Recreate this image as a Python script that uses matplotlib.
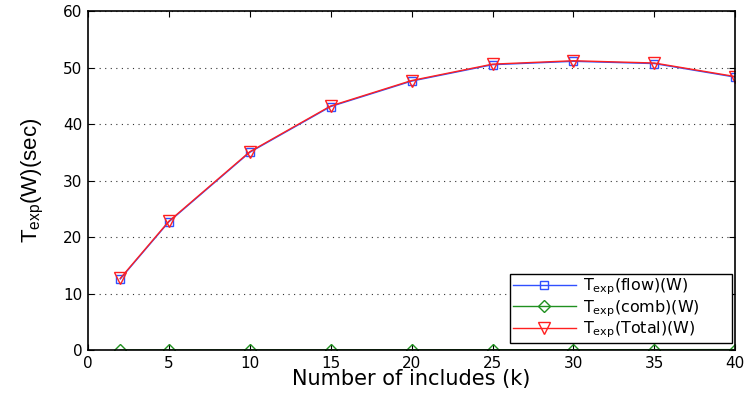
import matplotlib
matplotlib.use('Agg')
import matplotlib.pyplot as plt

# number of includes
k = [2, 5, 10, 15, 20, 25, 30, 35, 40]
t_flow = [12.6, 22.7, 35.0, 43.1, 47.6, 50.5, 51.1, 50.7, 48.3]
t_comb = [0.02, 0.03, 0.04, 0.05, 0.06, 0.07, 0.08, 0.09, 0.10]
t_total = [12.7, 22.8, 35.1, 43.2, 47.7, 50.6, 51.2, 50.8, 48.4]

plt.rcParams['font.family'] = ['DejaVu Sans']

fig = plt.figure(figsize=(7.45, 3.93), dpi=100)
ax = fig.add_axes([0.118, 0.109, 0.869, 0.863])

ax.plot(k, t_flow, color='#3050ff', marker='s', ms=5.5, mfc='none', lw=1, label=r'T$_{\mathregular{exp}}$(flow)(W)')
ax.plot(k, t_comb, color='#209020', marker='D', ms=6, mfc='none', lw=1, label=r'T$_{\mathregular{exp}}$(comb)(W)')
ax.plot(k, t_total, color='#ff2020', marker='v', ms=8, mfc='none', lw=1, label=r'T$_{\mathregular{exp}}$(Total)(W)')

ax.set_xlim(0, 40)
ax.set_ylim(0, 60)
ax.set_xticks(range(0, 41, 5))
ax.set_yticks(range(0, 61, 10))
ax.yaxis.grid(True, linestyle=(0, (1, 4)), color='#333333', lw=0.8)
ax.tick_params(direction='in', top=True, right=True, labelsize=11, length=4, pad=4)
for s in ax.spines.values():
    s.set_linewidth(1.2)

ax.set_xlabel('Number of includes (k)', fontsize=15, labelpad=-1)
ax.set_ylabel(r'T$_{\mathregular{exp}}$(W)(sec)', fontsize=16, labelpad=12, family='Liberation Sans')

leg = ax.legend(loc='lower left', bbox_to_anchor=(0.652, 0.02, 0.343, 0.2), mode='expand',
                fontsize=11.5, fancybox=False, framealpha=1, edgecolor='black',
                borderaxespad=0, handlelength=3.9, labelspacing=0.05, borderpad=0.2,
                handletextpad=0.5)
leg.get_frame().set_linewidth(1)

fig.savefig('out.png', dpi=100)
